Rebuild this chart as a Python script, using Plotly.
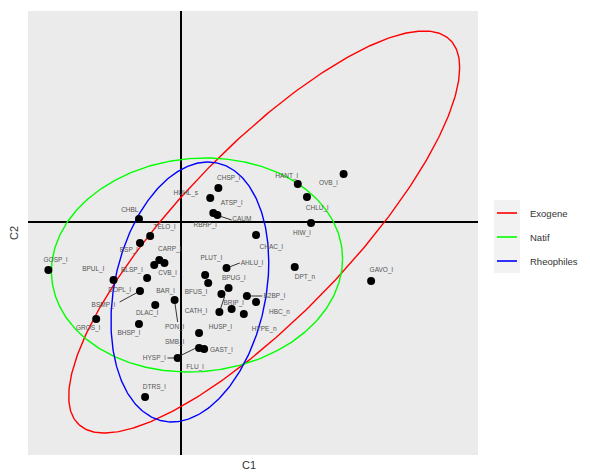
import numpy as np
import plotly.graph_objects as go

# ---------------- data ----------------
# site/species points (C1, C2)
pt_x = [-1.30, -0.41, -0.30, -0.40, -0.26, -0.21, -0.16, -0.66, -0.33, -0.40,
        -0.25, -0.06, -0.83, -0.41, -0.03, 0.29, 0.37, 0.32, 0.36, 1.15,
        1.60, 1.24, 1.28, 0.74, 1.12, 1.87, 0.45, 0.24, 0.27, 0.47,
        0.40, 0.65, 0.74, 0.50, 0.38, 0.62, 0.18, 0.18, 0.23, -0.35]
pt_y = [-0.48, 0.03, -0.14, -0.21, -0.43, -0.38, -0.41, -0.58, -0.56, -0.69,
        -0.83, -0.78, -0.97, -1.02, -1.36, 0.24, 0.34, 0.09, 0.07, 0.38,
        0.48, 0.25, -0.01, -0.13, -0.45, -0.59, -0.46, -0.53, -0.61, -0.66,
        -0.72, -0.74, -0.80, -0.87, -0.90, -0.92, -1.11, -1.26, -1.27, -1.75]

# text labels (repelled positions)
labels = ["GOSP_l", "CHBL", "TELO_l", "BSP_l", "CARP_l", "BPUL_l", "BLSP_l", "CVB_l",
          "DOPL_l", "BAR_l", "BSMP_l", "DLAC_l", "GROS_l", "BHSP_l", "PON_l", "SMB_l",
          "HYSP_l", "DTRS_l", "FLU_l", "GAST_l", "HUSP_l", "HYPE_n", "CATH_l", "BRIP_l",
          "HBC_n", "B2BP_l", "BFUS_l", "BPUG_l", "PLUT_l", "AHLU_l", "CHAC_l", "DPT_n",
          "GAVO_l", "HIW_l", "CHLU_l", "OVB_l", "HANT_l", "RBHP_l", "CAUM", "ATSP_l",
          "HUHL_s", "CHSP_l"]
lab_x = [-1.23, -0.50, -0.16, -0.51, -0.11, -0.86, -0.48, -0.13,
         -0.60, -0.15, -0.76, -0.33, -0.91, -0.51, -0.06, -0.06,
         -0.26, -0.26, 0.14, 0.40, 0.39, 0.82, 0.15, 0.52,
         0.97, 0.92, 0.15, 0.52, 0.30, 0.70, 0.89, 1.22,
         1.97, 1.19, 1.34, 1.45, 1.04, 0.24, 0.60, 0.50,
         0.05, 0.47]
lab_y = [-0.38, 0.12, -0.05, -0.28, -0.27, -0.47, -0.48, -0.51,
         -0.68, -0.69, -0.83, -0.91, -1.06, -1.11, -1.05, -1.20,
         -1.36, -1.65, -1.45, -1.28, -1.05, -1.07, -0.89, -0.81,
         -0.90, -0.74, -0.70, -0.56, -0.36, -0.41, -0.25, -0.55,
         -0.48, -0.11, 0.14, 0.39, 0.46, -0.03, 0.03, 0.19,
         0.29, 0.44]

# leader segments (label -> point)
seg_x0 = [-0.60, 0.35, 0.45, 0.65, -0.06, 0.38, 0.17, -0.13]
seg_y0 = [-0.80, 0.07, -0.46, -0.74, -0.79, -0.90, -1.25, -1.36]
seg_x1 = [-0.40, 0.50, 0.58, 0.80, -0.03, 0.43, -0.03, -0.03]
seg_y1 = [-0.69, 0.02, -0.41, -0.74, -1.00, -0.75, -1.35, -1.36]

# group ellipses (centre and shape matrix)
groups = ["Exogene", "Natif", "Rheophiles"]
colors = ["#FF0000", "#00FF00", "#0000FF"]
ell_cx = [0.82, 0.16, 0.09]
ell_cy = [-0.10, -0.43, -0.70]
ell_sxx = [3.6864, 2.0449, 0.6006]
ell_syy = [4.0401, 1.1449, 1.69]
ell_sxy = [3.1557, 0.09, 0.23]

X_RANGE = [-1.50, 2.92]
Y_RANGE = [-2.33, 2.11]

# ---------------- figure ----------------
# the page body has an 8px margin, so the figure is sized/offset to compensate
OFF = 8
W, H = 590 - OFF, 473 - OFF
ML, MR, MT, MB = 28 - OFF, 120 - OFF, 11 - OFF, 18 - OFF + OFF
PW, PH = W - ML - MR, H - MT - MB


def px2paper_x(px):
    return (px - OFF - ML) / PW


def px2paper_y(py):
    return (H - MB - (py - OFF)) / PH


fig = go.Figure()

t = np.linspace(0, 2 * np.pi, 400)
for g, col, cx, cy, sxx, syy, sxy in zip(groups, colors, ell_cx, ell_cy, ell_sxx, ell_syy, ell_sxy):
    L = np.linalg.cholesky(np.array([[sxx, sxy], [sxy, syy]]))
    pts = L @ np.vstack([np.cos(t), np.sin(t)])
    fig.add_trace(go.Scatter(x=pts[0] + cx, y=pts[1] + cy, mode="lines",
                             line=dict(color=col, width=1.4), name=g,
                             showlegend=False, hoverinfo="skip"))

sx, sy = [], []
for a, b, c, d in zip(seg_x0, seg_y0, seg_x1, seg_y1):
    sx += [a, c, None]
    sy += [b, d, None]
fig.add_trace(go.Scatter(x=sx, y=sy, mode="lines", line=dict(color="#333333", width=1),
                         showlegend=False, hoverinfo="skip"))

fig.add_trace(go.Scatter(x=pt_x, y=pt_y, mode="markers",
                         marker=dict(color="black", size=8), showlegend=False))

fig.add_trace(go.Scatter(x=lab_x, y=lab_y, mode="text", text=labels,
                         textposition="middle center",
                         textfont=dict(size=6.5, color="#555555",
                                       family="Liberation Sans, Arial, sans-serif"),
                         showlegend=False, hoverinfo="skip"))

axis_common = dict(showgrid=False, showticklabels=False, ticks="",
                   zeroline=True, zerolinecolor="black", zerolinewidth=2,
                   showline=False)
fig.update_xaxes(range=X_RANGE, **axis_common)
fig.update_yaxes(range=Y_RANGE, **axis_common)

# manual legend (ggplot style)
shapes = [dict(type="rect", xref="paper", yref="paper",
               x0=px2paper_x(494), x1=px2paper_x(520),
               y0=px2paper_y(273), y1=px2paper_y(200),
               fillcolor="#F2F2F2", line=dict(width=0), layer="below")]
annotations = []
key_y = [213, 237, 261]
for g, col, ky in zip(groups, colors, key_y):
    shapes.append(dict(type="line", xref="paper", yref="paper",
                       x0=px2paper_x(497), x1=px2paper_x(517),
                       y0=px2paper_y(ky), y1=px2paper_y(ky),
                       line=dict(color=col, width=1.6)))
    annotations.append(dict(xref="paper", yref="paper", x=px2paper_x(528), y=px2paper_y(ky),
                            text=g, showarrow=False, xanchor="left", yanchor="middle",
                            font=dict(size=9.5, color="#333333")))

annotations.append(dict(xref="paper", yref="paper", x=px2paper_x(249), y=px2paper_y(465),
                        text="C1", showarrow=False, xanchor="center", yanchor="middle",
                        font=dict(size=11, color="#333333")))
annotations.append(dict(xref="paper", yref="paper", x=px2paper_x(14), y=px2paper_y(233),
                        text="C2", showarrow=False, xanchor="center", yanchor="middle",
                        textangle=-90, font=dict(size=11, color="#333333")))

fig.update_layout(width=W, height=H, margin=dict(l=ML, r=MR, t=MT, b=MB),
                  plot_bgcolor="#EBEBEB", paper_bgcolor="white",
                  font=dict(family="Liberation Sans, Arial, sans-serif"),
                  shapes=shapes, annotations=annotations, showlegend=False)

fig.write_html("out.html")
